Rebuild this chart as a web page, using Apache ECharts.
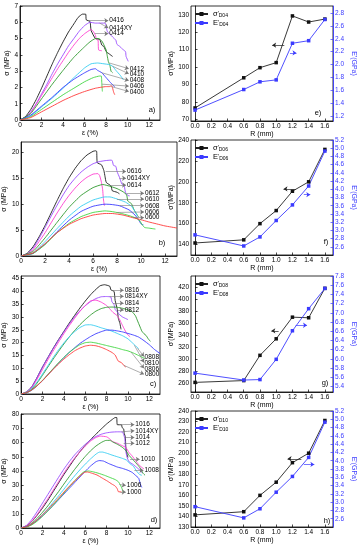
<!DOCTYPE html>
<html><head><meta charset="utf-8">
<script src="https://cdn.jsdelivr.net/npm/echarts@6/dist/echarts.min.js"></script>
<style>html,body{margin:0;padding:0;background:#fff}#c{width:358px;height:550px}</style>
</head><body><div id="c"></div>
<script>
// ---------- panel a (0.4 mm) ----------
const aNames = ['0416','0414XY','0414','0412','0410','0408','0406','0400'];
const a0416 = [[0,0],[0.5,0.2],[1,0.65],[1.5,1.25],[2,1.95],[2.5,2.7],[3,3.45],[3.5,4.15],[4,4.8],[4.5,5.4],[5,5.9],[5.4,6.3],[5.8,6.5],[6.1,6.5],[6.15,6.15],[6.5,6.05],[6.6,5.5],[7.0,5.0],[7.4,4.95],[7.6,4.6],[7.8,4.5],[8.0,4.2],[8.3,4.05],[8.6,3.9]];
const a0414XY = [[0,0],[0.5,0.15],[1,0.5],[1.5,1.0],[2,1.6],[2.5,2.2],[3,2.85],[3.5,3.45],[4,4.0],[4.5,4.55],[5,5.0],[5.5,5.45],[6,5.8],[6.5,6.0],[7,5.95],[7.9,5.95],[8.1,5.45],[8.6,5.1],[8.9,4.9],[9.0,4.65],[9.3,4.5],[9.6,4.3],[9.8,4.2],[9.85,3.9],[10.05,3.6]];
const a0414 = [[0,0],[0.5,0.15],[1,0.45],[1.5,0.95],[2,1.5],[2.5,2.05],[3,2.6],[3.5,3.15],[4,3.65],[4.5,4.15],[5,4.6],[5.5,5.0],[6,5.3],[6.6,5.55],[6.8,5.45],[7.0,5.2],[7.1,4.95],[7.25,4.9],[7.3,4.3],[7.6,4.25]];
const a0412 = [[0,0],[1,0.4],[2,1.3],[3,2.2],[4,3.05],[5,3.85],[6,4.5],[6.5,4.8],[7,5.0],[7.3,5.0],[7.6,4.85],[7.8,4.6],[8.0,4.3],[8.1,3.95],[8.2,3.6],[8.35,3.35],[8.45,3.0],[8.6,2.9]];
const a0410 = [[0,0],[1,0.25],[2,0.8],[3,1.35],[4,1.95],[5,2.6],[6,3.2],[6.6,3.45],[7.2,3.5],[7.8,3.45],[8.3,3.4],[8.6,3.3],[8.9,3.05],[9.3,2.75],[9.6,2.47]];
const a0408 = [[0,0],[1,0.3],[2,0.85],[3,1.4],[4,2.0],[5,2.5],[6,2.9],[6.6,3.1],[7.0,3.15],[7.2,3.05],[7.6,2.9],[8.0,2.6],[8.4,2.3],[8.7,2.1],[8.8,2.05]];
const a0406 = [[0,0],[1,0.2],[2,0.65],[3,1.1],[4,1.55],[5,1.95],[6,2.35],[6.8,2.6],[7.4,2.7],[7.55,2.7],[7.6,2.2],[7.65,1.75]];
const a0400 = [[0,0],[1,0.15],[2,0.5],[3,0.85],[4,1.2],[5,1.5],[6,1.75],[7,1.95],[8,2.05],[8.3,2.05],[8.5,2.1],[8.6,1.95],[8.7,1.7],[8.8,1.55]];
const aStart = [[6.4,6.1],[7.4,5.95],[6.95,5.3],[8.3,3.5],[8.6,3.3],[7.6,2.9],[7.6,2.2],[8.5,2.05]];
const aEnd = [[8.2,6.1],[8.2,5.65],[8.2,5.3],[10.1,3.15],[10.1,2.84],[10.1,2.43],[10.1,2.08],[10.1,1.75]];

// ---------- panel b (0.6 mm) ----------
const bNames = ['0616','0614XY','0614','0612','0610','0608','0606','0600'];
const b0616 = [[0,0],[0.5,0.5],[1,1.8],[1.5,3.7],[2,5.9],[2.5,8.3],[3,10.7],[3.5,13.0],[4,15.1],[4.5,16.9],[5,18.4],[5.5,19.5],[6,20.2],[6.2,20.3],[6.3,20.2],[6.35,18.0],[6.7,17.6],[6.9,16.5],[7.0,15.3],[7.1,14.2],[7.5,13.5],[7.6,12.6],[8.0,12.3],[8.2,12.0]];
const b0614XY = [[0,0],[0.5,0.4],[1,1.5],[1.5,3.4],[2,5.5],[2.5,7.7],[3,9.8],[3.5,11.8],[4,13.6],[4.5,15.0],[5,16.2],[5.5,17.1],[6,17.8],[6.5,18.2],[7,18.4],[7.5,18.5],[7.6,18.4],[7.7,17.5],[7.9,17.3],[8.0,16.3],[8.2,15.2],[8.4,13.9],[8.6,13.5],[8.7,12.3],[8.9,11.7],[9.05,11.6]];
const b0614 = [[0,0],[0.5,0.35],[1,1.2],[1.5,2.8],[2,4.5],[2.5,6.4],[3,8.3],[3.5,10.1],[4,11.7],[4.5,13.1],[5,14.3],[5.5,15.2],[6,15.8],[6.4,15.9],[6.55,15.5],[6.7,14.2],[6.8,12.8],[6.85,11.3],[6.9,10.3],[6.95,9.7]];
const b0612 = [[0,0],[1,0.9],[2,3.5],[3,6.5],[4,9.4],[5,11.7],[6,13.2],[6.8,13.8],[7.5,13.4],[8.0,13.0],[8.5,12.4],[8.8,11.8],[8.9,10.6],[9.2,10.1],[9.4,9.0],[9.6,8.2],[9.8,7.5]];
const b0610 = [[0,0],[1,0.6],[2,2.8],[3,5.3],[4,7.7],[5,9.6],[6,10.8],[7,11.4],[7.4,11.4],[8,11.0],[8.7,10.4],[9.2,9.6],[9.5,8.6],[9.7,7.7]];
const b0608 = [[0,0],[1,0.5],[2,2.3],[3,4.7],[4,6.9],[5,8.6],[6,9.6],[7,10.0],[7.5,9.95],[8.2,9.7],[9,8.9],[9.5,7.9],[9.8,7.0],[10.0,6.2],[10.2,6.0]];
const b0606 = [[0,0],[1,0.5],[2,2.2],[3,4.5],[4,6.3],[5,7.6],[6,8.4],[7,8.7],[7.5,8.6],[8.2,8.3],[9,7.8],[9.5,7.4],[9.9,6.8],[10.1,6.0],[10.3,5.5],[10.6,5.4],[11.2,5.2]];
const b0600 = [[0,0],[1,0.6],[2,2.4],[3,4.5],[4,6.1],[5,7.2],[6,7.9],[7,8.2],[7.6,8.2],[8.5,7.9],[9.3,7.4],[10,7.0],[10.6,6.6],[11.3,6.2],[12,5.8],[13,5.4]];
const bStart = [[7.05,16.3],[8.2,15.0],[7.4,13.7],[8.8,12.1],[8.0,11.0],[8.2,9.7],[8.0,8.4],[9.3,7.4]];
const bEnd = [[8.75,16.3],[8.75,15.0],[8.75,13.7],[10.25,12.1],[10.25,11.0],[10.25,9.7],[10.25,8.5],[10.25,7.4]];

// ---------- panel c (0.8 mm) ----------
const cNames = ['0816','0814XY','0814','0812','0808','0810','0806','0800'];
const c0816 = [[0,0],[0.5,0.8],[1,2.8],[1.5,6.5],[2,10.5],[2.5,14.2],[3,17.8],[3.5,21.2],[4,24.4],[4.5,27.6],[5,30.6],[5.5,33.5],[6,36.2],[6.5,38.7],[7,40.8],[7.4,42.2],[7.8,42.6],[8.3,42.0],[8.4,40.6],[8.7,40.0],[8.8,36.5],[9.0,33.0],[9.1,29.5],[9.25,27.5],[9.35,25.2]];
const c0814XY = [[0,0],[0.5,0.8],[1,2.8],[1.5,6.5],[2,10.5],[2.5,14.2],[3,17.7],[3.5,21.0],[4,24.2],[4.5,27.2],[5,30.0],[5.5,32.4],[6,34.4],[6.5,36.0],[7,37.2],[7.5,37.9],[8.0,38.0],[8.4,37.8],[8.5,36.0],[8.7,34.8],[8.8,33.0],[9.0,32.0],[9.2,31.0],[9.5,30.0],[9.8,29.4],[10.0,29.0]];
const c0814 = [[0,0],[0.5,0.7],[1,2.5],[1.5,5.8],[2,9.5],[2.5,13.3],[3,16.8],[3.5,20.2],[4,23.5],[4.5,26.6],[5,29.5],[5.5,32.2],[6,34.5],[6.5,36.3],[7,36.6],[7.5,35.8],[8.0,34.5],[8.3,33.2],[8.6,31.8],[9.0,30.5],[9.2,29.2],[9.4,27.5],[9.6,25.8],[9.8,24.2],[10.0,23.0],[10.2,22.3]];
const c0812 = [[0,0],[0.5,0.5],[1,1.9],[1.5,4.3],[2,7.3],[2.5,10.5],[3,13.6],[3.5,16.6],[4,19.5],[4.5,22.2],[5,24.7],[5.5,27.0],[6,29.0],[6.5,30.8],[7,32.3],[7.5,33.3],[8,33.8],[8.5,33.9],[9,33.8],[9.5,33.4],[10,32.8],[10.4,32.0],[10.7,30.5],[10.9,28.5],[11.1,26.5],[11.3,24.5],[11.5,23.5],[11.7,22.8],[11.9,21.5],[12.1,20.5]];
const c0808 = [[0,0],[0.5,0.6],[1,2.2],[1.5,4.7],[2,7.8],[2.5,11.0],[3,14.2],[3.5,17.2],[4,19.9],[4.5,22.3],[5,24.3],[5.5,25.9],[6,26.9],[6.5,27.0],[7,26.5],[7.5,25.8],[8,25.2],[8.5,24.5],[9,23.6],[9.5,22.7],[10,21.5],[10.4,20.0],[10.7,18.8],[11,17.7]];
const c0810 = [[0,0],[0.5,0.4],[1,1.5],[1.5,3.2],[2,5.2],[2.5,7.5],[3,9.8],[3.5,12.0],[4,14.2],[4.5,16.2],[5,18.0],[5.5,19.7],[6,21.1],[6.5,22.4],[7,23.5],[7.5,24.3],[8,24.9],[8.5,24.9],[9,24.6],[9.5,24.2],[10,23.6],[10.5,23.0],[11,22.2],[11.5,20.8],[12,19.2],[12.5,17.3],[13,15.8]];
const c0806 = [[0,0],[0.5,0.5],[1,1.6],[1.5,3.3],[2,5.3],[2.5,7.6],[3,9.9],[3.5,12.2],[4,14.3],[4.5,16.2],[5,17.8],[5.5,19.2],[6,20.0],[6.5,20.2],[7,19.9],[7.5,19.4],[8,18.9],[8.5,18.4],[9,17.9],[9.5,17.3],[10,16.8],[10.5,16.0],[11,15.0],[11.4,14.2],[11.6,13.8]];
const c0800 = [[0,0],[0.5,0.5],[1,1.6],[1.5,3.3],[2,5.2],[2.5,7.4],[3,9.6],[3.5,11.7],[4,13.6],[4.5,15.3],[5,16.8],[5.5,17.9],[6,18.7],[6.5,19.0],[7,18.8],[7.5,18.2],[8,17.3],[8.5,16.2],[8.8,15.2],[9.0,13.5],[9.1,12.8],[9.4,12.2],[9.6,11.2],[9.8,10.5]];
const cStart = [[8.6,40.4],[8.3,38.0],[8.6,35.4],[9.0,32.8],[10.9,17.8],[10.6,19.0],[10.3,16.3],[9.6,11.2]];
const cEnd = [[9.6,40.4],[9.6,38.1],[9.6,35.4],[9.6,32.8],[11.5,14.6],[11.5,12.3],[11.5,10.0],[11.5,7.7]];

// ---------- panel d (1.0 mm) ----------
const dNames = ['1016','1014XY','1014','1012','1010','1008','1006','1000'];
const d1016 = [[0,0],[0.5,1.5],[1,4.5],[1.5,9],[2,14],[2.5,19.5],[3,25.5],[3.5,31.5],[4,37.5],[4.5,43],[5,48.5],[5.5,53.5],[6,58],[6.5,62],[7,65.8],[7.5,69.5],[8,73.0],[8.5,76.0],[8.8,77.5],[8.95,77.5],[9.0,72.5],[9.4,72.4],[9.45,70.5],[9.6,69.5],[9.65,66.5],[9.75,64.0],[9.8,57],[9.9,52],[10.0,49.5]];
const d1014XY = [[0,0],[0.5,1.8],[1,6],[1.5,11.5],[2,17.5],[2.5,23.5],[3,29.5],[3.5,35.5],[4,41.3],[4.5,46.5],[5,51.2],[5.5,55.2],[6,58.7],[6.5,61.8],[7,64.2],[7.5,65.8],[8,66.8],[8.5,67.3],[9,67.5],[9.3,67.5],[9.5,67.3],[9.6,65.5],[9.7,63],[9.75,58],[9.8,54],[9.9,50],[10.1,46.5],[10.5,44.5],[10.9,42],[11.2,40],[11.35,38.5]];
const d1014 = [[0,0],[0.5,1.5],[1,4.8],[1.5,9.5],[2,15],[2.5,20.5],[3,26.5],[3.5,32.5],[4,38.5],[4.5,44],[5,49],[5.5,53.5],[6,57.5],[6.5,61],[7,63.5],[7.4,64.5],[8,64],[8.3,62.5],[8.6,60.5],[9,59.5],[9.4,58],[9.8,56.5],[10.1,53],[10.4,50.5],[10.7,47.5],[11.0,44.5],[11.3,42.5],[11.5,41.5]];
const d1012 = [[0,0],[0.5,1.0],[1,3.3],[1.5,6.8],[2,11],[2.5,15.5],[3,20.5],[3.5,25.5],[4,30.8],[4.5,36],[5,41],[5.5,45.8],[6,50.2],[6.5,54.2],[7,57.5],[7.5,60],[7.9,61.4],[8.3,61.5],[8.6,60.3],[9,58.8],[9.4,57],[9.8,54.5],[10.1,51],[10.4,48.5],[10.7,46],[11.0,43.5],[11.2,41.5],[11.4,38.5],[11.6,37]];
const d1010 = [[0,0],[0.5,0.8],[1,2.8],[1.5,5.8],[2,9.5],[2.5,13.5],[3,18],[3.5,22.5],[4,27.2],[4.5,32],[5,36.5],[5.5,40.8],[6,44.8],[6.5,48.5],[7,51.8],[7.3,53.2],[7.6,53.3],[8,52.5],[8.5,51.2],[9,50],[9.5,48.8],[9.9,47.5],[10.2,45],[10.5,43.5],[10.8,40],[11.1,37.5],[11.3,37]];
const d1008 = [[0,0],[0.5,0.8],[1,2.6],[1.5,5.3],[2,8.5],[2.5,12],[3,15.8],[3.5,19.8],[4,23.8],[4.5,27.8],[5,31.8],[5.5,35.8],[6,39.8],[6.5,43.5],[7,46.5],[7.3,47.3],[7.7,47],[8.2,45.2],[8.6,44],[9,42.8],[9.5,41.8],[10,40.5],[10.4,39],[10.7,37],[11.0,35],[11.1,32.5],[11.2,30],[11.3,28.5]];
const d1006 = [[0,0],[0.5,0.6],[1,2.2],[1.5,4.8],[2,8.2],[2.5,12],[3,16],[3.5,20.2],[4,24.5],[4.5,28.8],[5,33],[5.5,37],[5.9,39.5],[6.3,40],[6.7,39.5],[7.2,38.5],[7.8,37],[8.3,35.5],[8.8,34],[9.1,32.5],[9.3,30],[9.4,28.5],[9.5,26.5],[9.55,25]];
const d1000 = [[0,0],[0.5,0.8],[1,2.8],[1.5,5.7],[2,9.2],[2.5,13],[3,17],[3.5,21],[4,25.2],[4.5,29.2],[5,33],[5.5,36.5],[5.9,39],[6.2,39.3],[6.6,38.5],[7.1,37.2],[7.6,35],[8.1,32.8],[8.5,30.8],[8.8,29.5],[9.0,27.5],[9.1,25.5],[9.4,25.3]];
const dStart = [[9.3,72.5],[9.4,67.5],[9.7,63.5],[9.6,59.5],[10.2,48.2],[10.6,40.5],[9.2,30.5],[9.3,25.3]];
const dEnd = [[10.6,72.5],[10.6,68.2],[10.6,63.5],[10.6,59.5],[11.1,48.2],[11.45,40.5],[9.8,29.9],[9.8,25.2]];

// ---------- right panels: R vs sigma' and E' ----------
const R = [0, 0.6, 0.8, 1.0, 1.2, 1.4, 1.6];
const eSig = [76.5, 93.8, 99.6, 102.5, 129.3, 125.8, 127.5];
const eE   = [1.29, 1.61, 1.73, 1.76, 2.33, 2.37, 2.70];
const fSig = [141.5, 144.5, 160, 172.5, 191, 200, 231];
const fE   = [2.89, 2.62, 2.84, 3.24, 3.62, 4.08, 4.93];
const gSig = [261, 264, 306, 333.5, 369.5, 368.5, 417.5];
const gE   = [5.69, 5.54, 5.55, 5.99, 6.61, 7.09, 7.53];
const hSig = [141.5, 144.5, 160, 172.5, 191, 200, 231];
const hE   = [2.89, 2.62, 2.84, 3.24, 3.62, 4.08, 4.93];

const FONT = 'Liberation Sans';
const colors = ['#1a1a1a','#9a4cff','#ff3fd0','#2f9a2f','#36cdf2','#3a3aff','#42d642','#ff3b3b'];
const BLUE = '#3b3bff';

const panelsL = [
  {grid:{left:20,top:6,width:140,height:114}, yMax:7, yInt:1, hideYMax:false, curves:[a0416,a0414XY,a0414,a0412,a0410,a0408,a0406,a0400], names:aNames, st:aStart, en:aEnd, letter:'a)', lx:-8, ly:-10},
  {grid:{left:20,top:142,width:157,height:114}, yMax:22, yInt:5, hideYMax:true, curves:[b0616,b0614XY,b0614,b0612,b0610,b0608,b0606,b0600], names:bNames, st:bStart, en:bEnd, letter:'b)', lx:-15, ly:-13},
  {grid:{left:20,top:276,width:140,height:118}, yMax:46, yInt:5, hideYMax:true, curves:[c0816,c0814XY,c0814,c0812,c0808,c0810,c0806,c0800], names:cNames, st:cStart, en:cEnd, letter:'c)', lx:-7, ly:-10},
  {grid:{left:20,top:414,width:140,height:114}, yMax:80, yInt:10, hideYMax:false, curves:[d1016,d1014XY,d1014,d1012,d1010,d1008,d1006,d1000], names:dNames, st:dStart, en:dEnd, letter:'d)', lx:-6, ly:-8}
];
const panelsR = [
  {grid:{left:191,top:6,width:142,height:115}, sig:eSig, E:eE, sMin:69, sMax:135, sSplit:7, hideSMax:true, eMin:1.12, eMax:2.91, eSplit:9, hideEMax:true, tag:'D04', bA:[[1.10,112.5],[0.95,112.5]], eA:[[1.17,2.18],[1.25,2.18]], letter:'e)', lx:-15, ly:-8},
  {grid:{left:191,top:140,width:142,height:115}, sig:fSig, E:fE, sMin:130, sMax:240, sSplit:5, hideSMax:false, eMin:2.4, eMax:5.2, eSplit:14, hideEMax:false, tag:'D06', bA:[[1.24,193.2],[1.09,193.2]], eA:[[1.34,3.87],[1.42,3.87]], letter:'f)', lx:-7, ly:-13},
  {grid:{left:191,top:276,width:142,height:116}, sig:gSig, E:gE, sMin:245, sMax:438, sSplit:10, hideSMax:true, eMin:5.28, eMax:7.8, eSplit:13, hideEMax:false, tag:'D08', bA:[[1.03,346.7],[0.94,346.7]], eA:[[1.24,6.73],[1.38,6.73]], letter:'g)', lx:-8, ly:-9},
  {grid:{left:191,top:411,width:142,height:116}, sig:hSig, E:hE, sMin:130, sMax:240, sSplit:11, hideSMax:false, eMin:2.4, eMax:5.2, eSplit:14, hideEMax:false, tag:'D10', bA:[[1.31,194.7],[1.14,194.7]], eA:[[1.34,3.91],[1.47,3.91]], letter:'h)', lx:-6, ly:-6}
];

const grids = [], xAxes = [], yAxes = [], series = [], legends = [], graphics = [];
const lab = {fontSize:6.5, fontFamily:FONT, color:'#000'};
const tick = {inside:true, length:2.5, lineStyle:{color:'#000', width:0.7}};
const aLine = {lineStyle:{color:'#000', width:0.8}};

panelsL.forEach((p,i)=>{
  grids.push(Object.assign({show:true, borderColor:'#000', borderWidth:0.8}, p.grid));
  xAxes.push({gridIndex:i, type:'value', min:0, max:13, interval:2, splitLine:{show:false},
    axisLine:aLine, axisTick:tick, axisLabel:Object.assign({margin:2, showMaxLabel:false}, lab),
    name:'ε (%)', nameLocation:'middle', nameGap:9, nameTextStyle:{fontSize:7, fontFamily:FONT, color:'#000'}});
  yAxes.push({gridIndex:i, type:'value', min:0, max:p.yMax, interval:p.yInt, splitLine:{show:false},
    axisLine:aLine, axisTick:tick, axisLabel:Object.assign({margin:2, showMaxLabel: p.hideYMax ? false : true}, lab),
    name:'σ (MPa)', nameLocation:'middle', nameGap:8, nameTextStyle:{fontSize:7, fontFamily:FONT, color:'#000'}});
  p.curves.forEach((d,k)=>{
    series.push({type:'line', name:p.names[k], xAxisIndex:i, yAxisIndex:i, data:d, symbol:'none', smooth:0.15,
      lineStyle:{width:0.9, color:colors[k]}, itemStyle:{color:colors[k]}, z:3,
      markLine:{silent:true, symbol:['none','arrow'], symbolSize:4, animation:false,
        lineStyle:{color:'#777', width:0.6, type:'solid'},
        label:{show:true, position:'end', align:'left', verticalAlign:'middle', formatter:p.names[k], fontSize:6.5, fontFamily:FONT, color:'#000', distance:1},
        data:[[{coord:p.st[k]},{coord:p.en[k]}]]}});
  });
  graphics.push({type:'text', x:p.grid.left+p.grid.width+p.lx, y:p.grid.top+p.grid.height+p.ly,
    style:{text:p.letter, fontSize:7.5, fontFamily:FONT, fill:'#000', align:'center', verticalAlign:'middle'}});
});

panelsR.forEach((p,j)=>{
  const gi = 4+j, yl = 4+2*j, yr = 5+2*j;
  grids.push(Object.assign({show:true, borderColor:'#000', borderWidth:0.8}, p.grid));
  xAxes.push({gridIndex:gi, type:'value', min:-0.05, max:1.7, splitNumber:8, splitLine:{show:false},
    axisLine:aLine, axisTick:tick,
    axisLabel:Object.assign({margin:2, showMinLabel:false, showMaxLabel:false, formatter:v=>v.toFixed(1)}, lab),
    name:'R (mm)', nameLocation:'middle', nameGap:9, nameTextStyle:{fontSize:7, fontFamily:FONT, color:'#000'}});
  yAxes.push({gridIndex:gi, type:'value', position:'left', min:p.sMin, max:p.sMax, splitNumber:p.sSplit, splitLine:{show:false},
    axisLine:aLine, axisTick:tick,
    axisLabel:Object.assign({margin:2, showMinLabel: j===3 ? true : false, showMaxLabel: p.hideSMax ? false : true}, lab),
    name:"σ'(MPa)", nameLocation:'middle', nameGap:10, nameTextStyle:{fontSize:7, fontFamily:FONT, color:'#000'}});
  yAxes.push({gridIndex:gi, type:'value', position:'right', min:p.eMin, max:p.eMax, splitNumber:p.eSplit, splitLine:{show:false},
    axisLine:{show:true, lineStyle:{color:BLUE, width:0.9}}, axisTick:{inside:true, length:2.5, lineStyle:{color:BLUE, width:0.7}},
    axisLabel:Object.assign({}, lab, {color:BLUE, margin:2, showMinLabel:false, showMaxLabel: p.hideEMax ? false : true, formatter:v=>v.toFixed(1)}),
    name:"E'(GPa)", nameLocation:'middle', nameRotate:-90, nameGap:17, nameTextStyle:{fontSize:7, fontFamily:FONT, color:BLUE}});
  series.push({type:'line', name:'σ'+p.tag, xAxisIndex:gi, yAxisIndex:yl, data:R.map((r,k)=>[r,p.sig[k]]),
    symbol:'rect', symbolSize:3.5, lineStyle:{width:0.9, color:'#222'}, itemStyle:{color:'#111'}, z:3,
    markLine:{silent:true, symbol:['none','arrow'], symbolSize:4, animation:false, lineStyle:{color:'#222', width:0.7, type:'solid'}, label:{show:false},
      data:[[{coord:p.bA[0]},{coord:p.bA[1]}]]}});
  series.push({type:'line', name:'E'+p.tag, xAxisIndex:gi, yAxisIndex:yr, data:R.map((r,k)=>[r,p.E[k]]),
    symbol:'rect', symbolSize:3.5, lineStyle:{width:0.9, color:BLUE}, itemStyle:{color:BLUE}, z:3,
    markLine:{silent:true, symbol:['none','arrow'], symbolSize:4, animation:false, lineStyle:{color:BLUE, width:0.7, type:'solid'}, label:{show:false},
      data:[[{coord:p.eA[0]},{coord:p.eA[1]}]]}});
  legends.push({data:['σ'+p.tag,'E'+p.tag], orient:'vertical', left:p.grid.left+3, top:p.grid.top+4,
    itemWidth:13, itemHeight:5, itemGap:1, padding:0,
    formatter:name=>'{m|'+name[0]+'}{p|\u2032}{s|'+name.slice(1)+'}',
    textStyle:{fontFamily:FONT, color:'#000', rich:{
      m:{fontSize:7.5, fontFamily:FONT, color:'#000'},
      p:{fontSize:6, fontFamily:FONT, color:'#000', verticalAlign:'top'},
      s:{fontSize:5, fontFamily:FONT, color:'#000', verticalAlign:'bottom', padding:[3,0,0,0]}}}});
  graphics.push({type:'text', x:p.grid.left+p.grid.width+p.lx, y:p.grid.top+p.grid.height+p.ly,
    style:{text:p.letter, fontSize:7.5, fontFamily:FONT, fill:'#000', align:'center', verticalAlign:'middle'}});
});

const chart = echarts.init(document.getElementById('c'), null, {renderer:'canvas', width:358, height:550});
chart.setOption({animation:false, backgroundColor:'#fff', grid:grids, xAxis:xAxes, yAxis:yAxes, series:series, legend:legends, graphic:graphics});
</script></body></html>
